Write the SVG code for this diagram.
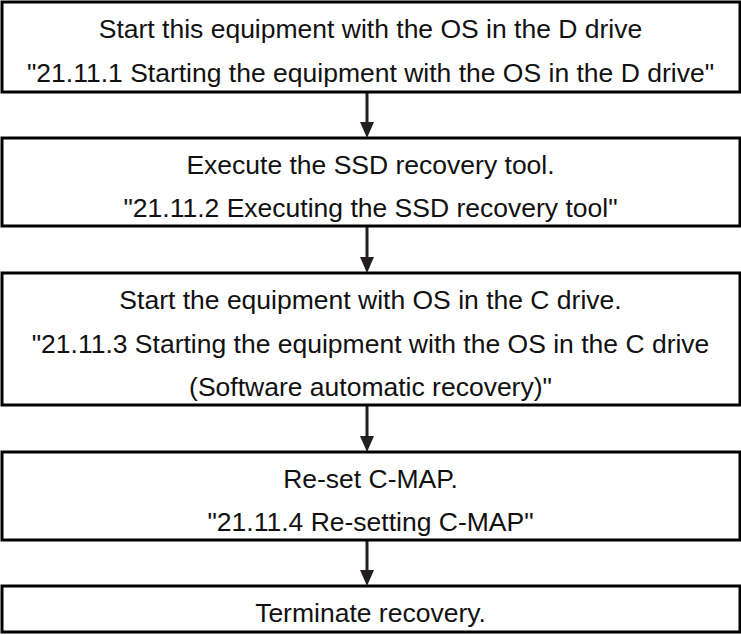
<svg xmlns="http://www.w3.org/2000/svg" width="741" height="635" viewBox="0 0 741 635">
<style>
.box{fill:#fff;stroke:#000;stroke-width:3}
.t{font-family:"Liberation Sans",Arial,sans-serif;font-size:26.5px;fill:#111;text-anchor:middle}
.ln{stroke:#231f20;stroke-width:3;fill:none}
.hd{fill:#231f20}
</style>
<rect width="741" height="635" fill="#fff"/>
<g id="connectors">
<line class="ln" x1="367" y1="93" x2="367" y2="124"/><polygon class="hd" points="360,122 374,122 367,138"/>
<line class="ln" x1="367" y1="227" x2="367" y2="259"/><polygon class="hd" points="360,257 374,257 367,273"/>
<line class="ln" x1="367" y1="406" x2="367" y2="438"/><polygon class="hd" points="360,436 374,436 367,452"/>
<line class="ln" x1="367" y1="541" x2="367" y2="572"/><polygon class="hd" points="360,570 374,570 367,586"/>
</g>
<g id="n1"><rect class="box" x="2" y="2" width="738" height="90"/>
<text class="t" x="370.5" y="38">Start this equipment with the OS in the D drive</text>
<text class="t" x="370.5" y="82">"21.11.1 Starting the equipment with the OS in the D drive"</text></g>
<g id="n2"><rect class="box" x="2" y="138" width="738" height="88"/>
<text class="t" x="370.5" y="174">Execute the SSD recovery tool.</text>
<text class="t" x="370.5" y="217">"21.11.2 Executing the SSD recovery tool"</text></g>
<g id="n3"><rect class="box" x="2" y="273" width="738" height="132"/>
<text class="t" x="370.5" y="309">Start the equipment with OS in the C drive.</text>
<text class="t" x="370.5" y="353">"21.11.3 Starting the equipment with the OS in the C drive</text>
<text class="t" x="370.5" y="396">(Software automatic recovery)"</text></g>
<g id="n4"><rect class="box" x="2" y="452" width="738" height="88"/>
<text class="t" x="370.5" y="488">Re-set C-MAP.</text>
<text class="t" x="370.5" y="531">"21.11.4 Re-setting C-MAP"</text></g>
<g id="n5"><rect class="box" x="2" y="586" width="738" height="46"/>
<text class="t" x="370.5" y="622">Terminate recovery.</text></g>
</svg>
